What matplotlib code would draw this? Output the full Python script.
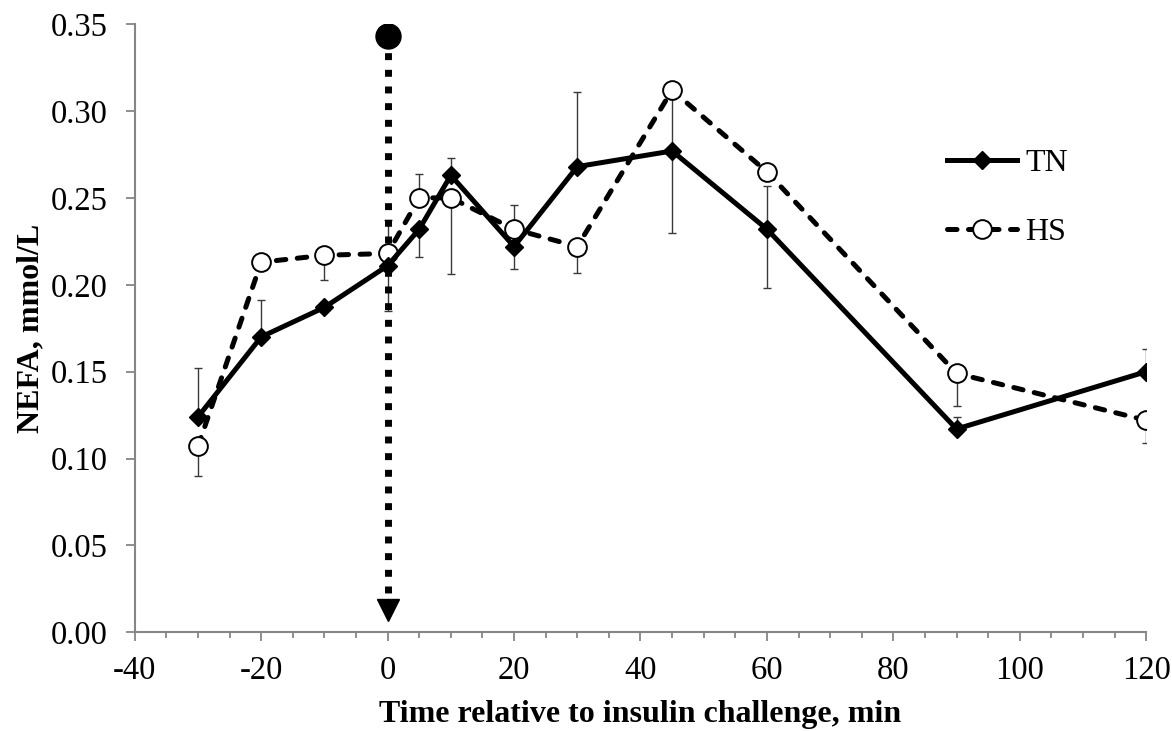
import matplotlib
matplotlib.use("Agg")
import matplotlib.pyplot as plt
import numpy as np

plt.rcParams['font.family'] = ['Liberation Serif', 'DejaVu Serif']
plt.rcParams['axes.unicode_minus'] = False

# sampling times (min) relative to the insulin challenge
time = [-30, -20, -10, 0, 5, 10, 20, 30, 45, 60, 90, 120]

# NEFA, mmol/L
tn = [0.124, 0.170, 0.187, 0.211, 0.232, 0.263, 0.222, 0.268, 0.277, 0.232, 0.117, 0.150]
hs = [0.107, 0.213, 0.217, 0.218, 0.250, 0.250, 0.232, 0.222, 0.312, 0.265, 0.149, 0.122]

# one-sided SEM bars
tn_err_low = [0, 0, 0, 0.026, 0.016, 0, 0.013, 0, 0.047, 0.034, 0, 0]
tn_err_high = [0.028, 0.021, 0, 0, 0, 0.010, 0, 0.043, 0.030, 0.025, 0.007, 0.013]
hs_err_low = [0.017, 0, 0.014, 0, 0, 0.044, 0, 0.015, 0, 0, 0.019, 0.013]
hs_err_high = [0, 0, 0, 0.019, 0.014, 0, 0.014, 0, 0, 0, 0, 0]

challenge_time = 0
arrow_top = 0.343
arrow_bottom = 0.004

fig = plt.figure(figsize=(11.72, 7.31), dpi=100)
ax = fig.add_axes([0.115, 0.135, 0.863, 0.832])


def draw_err(y, lo, hi):
    t = np.array(time)
    y = np.array(y)
    for arr, up in ((np.array(lo), False), (np.array(hi), True)):
        m = arr > 0
        if not m.any():
            continue
        zero = np.zeros(m.sum())
        yerr = [zero, arr[m]] if up else [arr[m], zero]
        ax.errorbar(t[m], y[m], yerr=yerr, fmt='none', ecolor='#3a3a3a',
                    elinewidth=1.0, capsize=3.2, capthick=1.0, zorder=2)


draw_err(tn, tn_err_low, tn_err_high)
draw_err(hs, hs_err_low, hs_err_high)

# insulin challenge marker: dotted line with dot and arrow head
ax.plot([challenge_time, challenge_time], [arrow_top, arrow_bottom + 0.014],
        color='black', lw=5, linestyle=(0, (1.0, 1.4)), zorder=3)
ax.plot([challenge_time], [arrow_top], marker='o', ms=18, color='black', zorder=4)
ax.plot([challenge_time], [arrow_bottom + 0.009], marker='v', ms=16, color='black',
        zorder=4)

ax.plot(time, tn, color='black', lw=3.6, marker='D', ms=9, mfc='black',
        mec='black', label='TN', zorder=6)
ax.plot(time, hs, color='black', lw=3.6, linestyle=(0, (1.9, 2.3)),
        dash_capstyle='round', marker='o', ms=13.5, mfc='white', mec='black',
        mew=1.4, label='HS', zorder=5)

ax.set_xlim(-40, 120)
ax.set_ylim(0, 0.35)
ax.set_xticks(np.arange(-40, 121, 20))
ax.set_xticks(np.arange(-40, 121, 5), minor=True)
ax.set_yticks(np.arange(0, 0.351, 0.05))
ax.yaxis.set_major_formatter(plt.FormatStrFormatter('%.2f'))

for s in ('top', 'right'):
    ax.spines[s].set_visible(False)
for s in ('left', 'bottom'):
    ax.spines[s].set_color('#868686')
    ax.spines[s].set_linewidth(1.5)
ax.tick_params(axis='both', which='major', direction='out', length=6.5, width=1.3,
               color='#868686', labelsize=23.5, labelcolor='black')
ax.tick_params(axis='x', which='minor', direction='out', length=4.5, width=1.3,
               color='#868686')
ax.tick_params(axis='y', pad=13)
ax.tick_params(axis='x', pad=10)

ax.set_xlabel('Time relative to insulin challenge, min', fontsize=23,
              fontweight='bold')
ax.xaxis.set_label_coords(0.5, -0.112)
ax.set_ylabel('NEFA, mmol/L', fontsize=23, fontweight='bold', labelpad=4)

leg = ax.legend(loc='upper left', bbox_to_anchor=(0.803, 0.795), frameon=False,
                fontsize=23, handlelength=2.2, handletextpad=0.25,
                labelspacing=1.25, borderaxespad=0, borderpad=0)

fig.savefig('out.png', dpi=100)
